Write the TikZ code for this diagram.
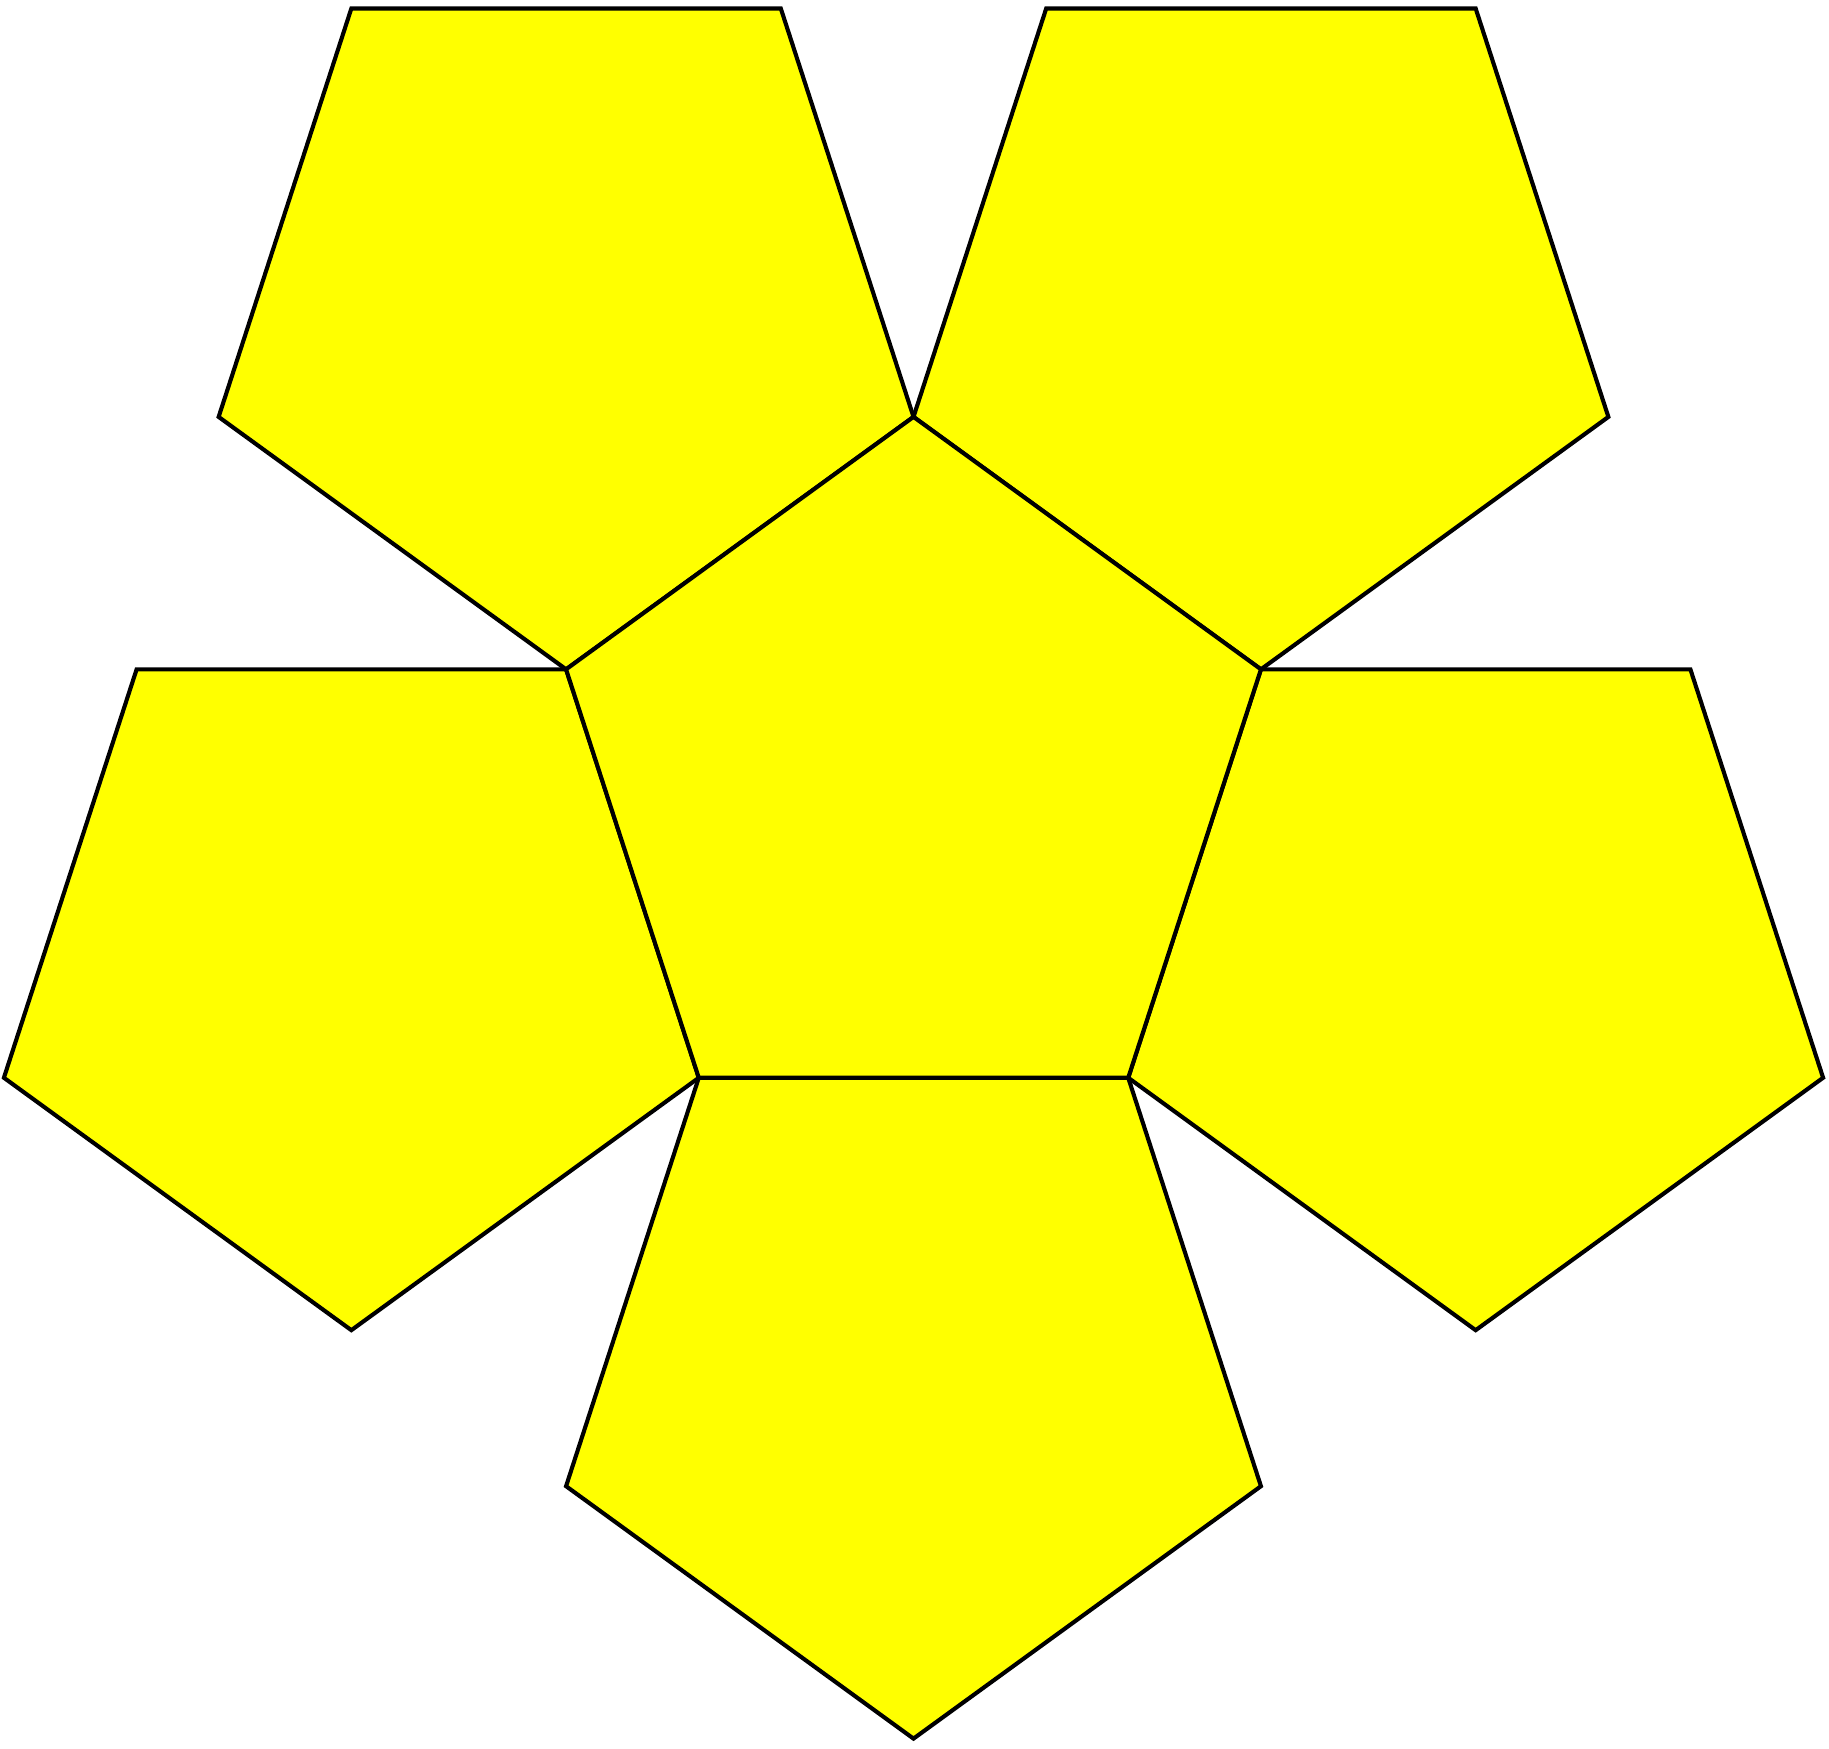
\documentclass[tikz,border=0pt]{standalone}
\usepackage{tikz}
\usetikzlibrary{shapes.geometric}
\definecolor{facefill}{RGB}{255,255,0}
\tikzset{face/.style={regular polygon,regular polygon sides=5,fill=facefill,draw=black,line width=1pt,minimum size=6.2608cm,inner sep=0pt,outer sep=0pt},
flip/.style={face,shape border rotate=180}}

\begin{document}
\begin{tikzpicture}
	\useasboundingbox (-7.828,-8.281) rectangle (7.845,6.703);
	\node[flip] (south) at (270:5.065) {};
	\node[flip] (east) at (342:5.065) {};
	\node[flip] (northeast) at (54:5.065) {};
	\node[flip] (northwest) at (126:5.065) {};
	\node[flip] (west) at (198:5.065) {};
	\node[face] (mid) at (0,0) {};
\end{tikzpicture}
\end{document}
